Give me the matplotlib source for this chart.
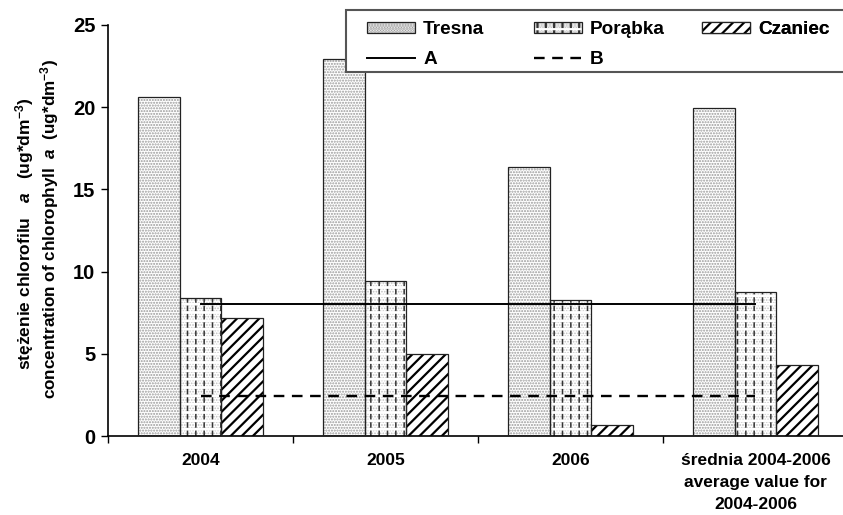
import matplotlib
matplotlib.use('Agg')
import matplotlib.pyplot as plt
import numpy as np
from matplotlib.legend_handler import HandlerTuple
from matplotlib.patches import Rectangle

categories = ['2004', '2005', '2006', 'średnia 2004-2006\naverage value for\n2004-2006']
tresna = [20.6, 22.95, 16.35, 19.95]
porabka = [8.4, 9.45, 8.25, 8.75]
czaniec = [7.2, 5.0, 0.65, 4.3]
line_a = [8.0, 8.0, 8.0, 8.0]
line_b = [2.45, 2.45, 2.45, 2.45]
y_ticks = [0, 5, 10, 15, 20, 25]

plt.rcParams['font.family'] = ['Liberation Sans', 'DejaVu Sans']
plt.rcParams['font.weight'] = 'bold'
plt.rcParams['mathtext.fontset'] = 'custom'
plt.rcParams['mathtext.rm'] = 'Liberation Sans:bold'
plt.rcParams['mathtext.it'] = 'Liberation Sans:italic:bold'
plt.rcParams['mathtext.bf'] = 'Liberation Sans:bold'

W, H = 843, 515
fig = plt.figure(figsize=(W/100, H/100), dpi=100)
ax = fig.add_axes([108/W, 1-436/H, 740/W, 411/H])

x = np.arange(len(categories))
w = 0.224


def layered_bar(xpos, vals, layers):
    parts = []
    for i, (hatch, color, hlw) in enumerate(layers):
        plt.rcParams['hatch.linewidth'] = hlw
        b = ax.bar(xpos, vals, w, facecolor='white' if i == 0 else 'none',
                   edgecolor=color, linewidth=0, hatch=hatch, zorder=2 + i*0.1)
        parts.append(b.patches[0])
    outline = ax.bar(xpos, vals, w, facecolor='none', edgecolor='#222222',
                     linewidth=0.9, zorder=3)
    parts.append(outline.patches[0])
    return tuple(parts)


h_tresna = layered_bar(x - w, tresna, [('......', '#9a9a9a', 1.0)])
h_porabka = layered_bar(x, porabka, [('......', '#c0c0c0', 0.8),
                                     ('||', '#333333', 1.1),
                                     ('--', 'white', 2.0)])
h_czaniec = layered_bar(x + w, czaniec, [('///', 'black', 1.6)])

la, = ax.plot(x, line_a, color='black', lw=1.4, zorder=5)
lb, = ax.plot(x, line_b, color='black', lw=1.7, linestyle=(0, (4.5, 3.2)), zorder=5)

ax.set_xlim(-0.5, 3.5)
ax.set_ylim(0, 25)
ax.set_yticks(y_ticks)
ax.set_yticklabels([str(v) for v in y_ticks], fontsize=14.5, fontweight='bold')
ax.set_xticks(np.arange(-0.5, 4.0, 1.0), minor=True)
ax.set_xticks(x)
ax.set_xticklabels(categories, fontsize=12.5, fontweight='bold', linespacing=1.58)
ax.tick_params(axis='x', which='major', length=0, pad=12)
ax.tick_params(axis='x', which='minor', length=5, width=1)
ax.tick_params(axis='y', length=5, width=1, pad=4)

for s in ['top', 'right']:
    ax.spines[s].set_visible(False)
for s in ['left', 'bottom']:
    ax.spines[s].set_linewidth(1.2)

fig.text(25/W, 1-234/H, r'stężenie chlorofilu   $\mathit{a}$   (ug*dm$^{-3}$)',
         rotation=90, ha='center', va='center', fontsize=12.5, fontweight='bold')
fig.text(50/W, 1-229/H, r'concentration of chlorophyll  $\mathit{a}$  (ug*dm$^{-3}$)',
         rotation=90, ha='center', va='center', fontsize=12.3, fontweight='bold')

# legend frame
frame = Rectangle((346/W, 1-71.5/H), 510/W, 61.5/H, transform=fig.transFigure,
                  facecolor='white', edgecolor='#555555', linewidth=1.5,
                  clip_on=False, zorder=9)
ax.add_artist(frame)

leg_kw = dict(handler_map={tuple: HandlerTuple(ndivide=1)},
              loc='upper left', bbox_transform=fig.transFigure, borderaxespad=0,
              borderpad=0, prop={'weight': 'bold', 'size': 13.7},
              frameon=False, handlelength=2.53, handleheight=0.5,
              handletextpad=0.42, labelspacing=0.68)
columns = [([h_tresna, la], ['Tresna', 'A'], 367),
           ([h_porabka, lb], ['Porąbka', 'B'], 534),
           ([h_czaniec], ['Czaniec'], 702)]
for handles, labels, xpx in columns:
    lg = ax.legend(handles, labels, bbox_to_anchor=(xpx/W, 1-21/H), **leg_kw)
    lg.set_zorder(10)
    ax.add_artist(lg)

fig.savefig('out.png', dpi=100)
